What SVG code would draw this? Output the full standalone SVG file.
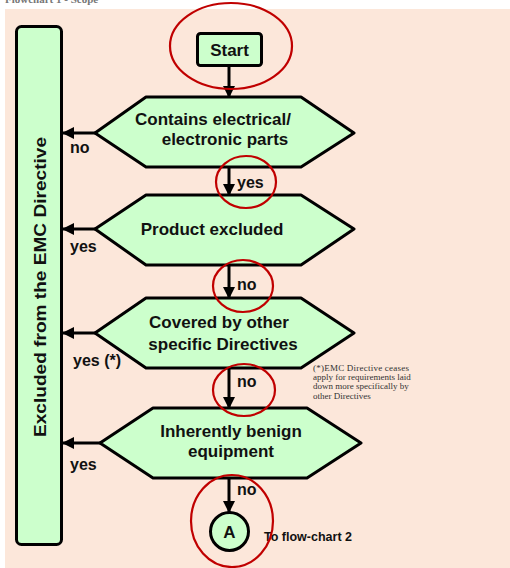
<svg xmlns="http://www.w3.org/2000/svg" width="510" height="568" viewBox="0 0 510 568">
<style>
.box{fill:#ccffcc;stroke:#000;stroke-width:3;stroke-linejoin:round}
.t{font-family:"Liberation Sans",Arial,sans-serif;font-weight:bold;fill:#111;font-size:17px;text-anchor:middle}
.lbl{font-family:"Liberation Sans",Arial,sans-serif;font-weight:bold;fill:#111;font-size:16px}
.ring{fill:none;stroke:#c00000;stroke-width:2.2}
.c{stroke:#000;stroke-width:3;fill:none}
.note{font-family:"Liberation Serif","Times New Roman",serif;font-size:9px;fill:#333}
</style>
<defs>
<marker id="ah" markerUnits="userSpaceOnUse" markerWidth="12" markerHeight="12" viewBox="0 0 12 12" refX="11" refY="6" orient="auto">
<path d="M0,0 L12,6 L0,12 Z" fill="#000"/>
</marker>
</defs>
<text x="5" y="3" font-family="Liberation Serif,serif" font-weight="bold" font-size="11" fill="#777">Flowchart 1 - Scope</text>
<rect x="5" y="9" width="505" height="559" fill="#fce7da"/>
<g id="excluded">
<rect class="box" x="16.5" y="26.5" width="45" height="518" rx="5" stroke-width="3.5"/>
<text class="t" font-size="19" textLength="300" lengthAdjust="spacingAndGlyphs" transform="translate(46,287) rotate(-90)">Excluded from the EMC Directive</text>
</g>
<g id="start">
<rect class="box" x="197.5" y="33.5" width="64" height="32" rx="3"/>
<text class="t" x="229.5" y="56" font-size="16">Start</text>
</g>
<g id="d1">
<polygon class="box" points="146,97 301,97 354,133 301,167 146,167 95,133"/>
<text class="t" x="213" y="125">Contains electrical/</text>
<text class="t" x="225" y="145">electronic parts</text>
</g>
<g id="d2">
<polygon class="box" points="146,195 301,195 354,229 301,265 146,265 95,229"/>
<text class="t" x="212" y="235">Product excluded</text>
</g>
<g id="d3">
<polygon class="box" points="146,298 301,298 354,333 301,368 146,368 95,333"/>
<text class="t" x="219" y="328">Covered by other</text>
<text class="t" x="223" y="350">specific Directives</text>
</g>
<g id="d4">
<polygon class="box" points="153,408 307,408 361,443 307,478 153,478 100,443"/>
<text class="t" x="231" y="437">Inherently benign</text>
<text class="t" x="231" y="457">equipment</text>
</g>
<g id="connA">
<circle class="box" cx="229.5" cy="531.5" r="19"/>
<text class="t" x="229.5" y="538" font-size="18">A</text>
</g>
<g id="connectors">
<line class="c" x1="229" y1="66" x2="229" y2="97" marker-end="url(#ah)"/>
<line class="c" x1="229" y1="167" x2="229" y2="195" marker-end="url(#ah)"/>
<line class="c" x1="229" y1="265" x2="229" y2="298" marker-end="url(#ah)"/>
<line class="c" x1="229" y1="368" x2="229" y2="408" marker-end="url(#ah)"/>
<line class="c" x1="229" y1="478" x2="229" y2="512" marker-end="url(#ah)"/>
<line class="c" x1="95" y1="133" x2="63" y2="133" marker-end="url(#ah)"/>
<line class="c" x1="95" y1="229" x2="63" y2="229" marker-end="url(#ah)"/>
<line class="c" x1="95" y1="333" x2="63" y2="333" marker-end="url(#ah)"/>
<line class="c" x1="100" y1="443" x2="63" y2="443" marker-end="url(#ah)"/>
<text class="lbl" x="70" y="153">no</text>
<text class="lbl" x="70" y="252">yes</text>
<text class="lbl" x="73" y="366">yes (*)</text>
<text class="lbl" x="70" y="470">yes</text>
<text class="lbl" x="237" y="188">yes</text>
<text class="lbl" x="237" y="290">no</text>
<text class="lbl" x="237" y="387">no</text>
<text class="lbl" x="237" y="495">no</text>
</g>
<g id="footnote">
<text class="note" x="313" y="371" textLength="96" lengthAdjust="spacing">(*)EMC Directive ceases</text>
<text class="note" x="313" y="380">apply for requirements laid</text>
<text class="note" x="313" y="389">down more specifically by</text>
<text class="note" x="313" y="399">other Directives</text>
</g>
<text x="264" y="541" font-family="Liberation Sans,Arial,sans-serif" font-weight="bold" font-size="12.5" fill="#111">To flow-chart 2</text>
<g id="highlights">
<ellipse class="ring" cx="231" cy="46" rx="61" ry="43"/>
<ellipse class="ring" cx="246" cy="182" rx="30" ry="26"/>
<ellipse class="ring" cx="243" cy="286" rx="30" ry="26"/>
<ellipse class="ring" cx="244" cy="390" rx="31" ry="26"/>
<ellipse class="ring" cx="232" cy="521" rx="41" ry="46"/>
</g>
</svg>
